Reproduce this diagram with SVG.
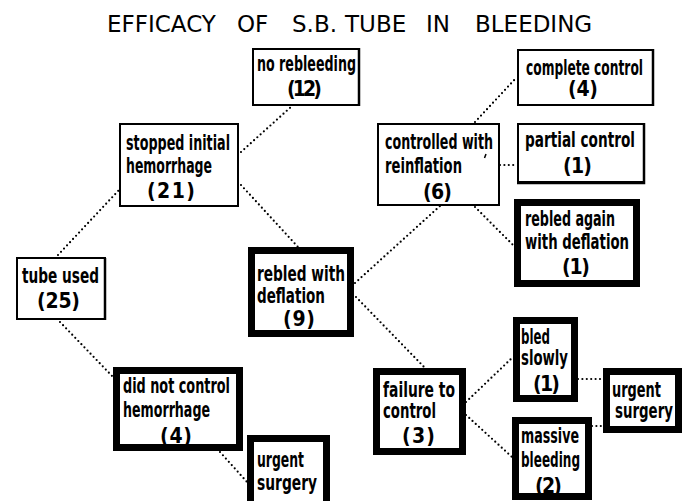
<svg xmlns="http://www.w3.org/2000/svg" width="687" height="501" viewBox="0 0 687 501">
<style>
.bg{fill:#fff}
.thin{fill:#fff;stroke:#000;stroke-width:2}
.thick{fill:#fff;stroke:#000;stroke-width:7}
.edge{stroke:#000;stroke-width:2.5;fill:none}
.conn line{stroke:#000;stroke-width:2.2;stroke-linecap:round;stroke-dasharray:0 4.4;fill:none}
.t{font-family:"DejaVu Sans Condensed","DejaVu Sans","Liberation Sans",sans-serif;font-weight:bold;font-size:21px;fill:#000}
.title{font-family:"DejaVu Sans","Liberation Sans",sans-serif;font-size:23px;fill:#000}
</style>
<rect class="bg" x="0" y="0" width="687" height="501"/>
<text class="title" y="32"><tspan x="107">EFFICACY</tspan><tspan x="237">OF</tspan><tspan x="292">S.B.</tspan><tspan x="345">TUBE</tspan><tspan x="426">IN</tspan><tspan x="475">BLEEDING</tspan></text>

<g id="connectors" class="conn">
<line x1="58" y1="255" x2="119" y2="190"/>
<line x1="60" y1="322" x2="113" y2="377"/>
<line x1="241" y1="152" x2="292" y2="106"/>
<line x1="241" y1="185" x2="298" y2="247"/>
<line x1="355" y1="283" x2="440" y2="206"/>
<line x1="356" y1="297" x2="425" y2="368"/>
<line x1="475" y1="122" x2="517" y2="77"/>
<line x1="500" y1="165" x2="517" y2="165"/>
<line x1="475" y1="207" x2="514" y2="246"/>
<line x1="466" y1="402" x2="513" y2="357"/>
<line x1="466" y1="415" x2="512" y2="457"/>
<line x1="578" y1="379" x2="603" y2="379"/>
<line x1="592" y1="426" x2="603" y2="426"/>
<line x1="220" y1="452" x2="247" y2="482"/>
</g>

<g id="tube-used">
<rect class="thin" x="17" y="258" width="88" height="61"/>
<line class="edge" x1="105" y1="258" x2="105" y2="320"/>
<text class="t" x="22" y="283" textLength="77" lengthAdjust="spacingAndGlyphs">tube used</text>
<text class="t" x="37" y="308" textLength="43" lengthAdjust="spacing">(25)</text>
</g>

<g id="stopped-initial">
<rect class="thin" x="120" y="124" width="118" height="82"/>
<text class="t" x="126" y="150" textLength="104" lengthAdjust="spacingAndGlyphs">stopped initial</text>
<text class="t" x="126" y="173" textLength="86" lengthAdjust="spacingAndGlyphs">hemorrhage</text>
<text class="t" x="147" y="198" textLength="48" lengthAdjust="spacing">(21)</text>
</g>

<g id="no-rebleeding">
<rect class="thin" x="253" y="49" width="106" height="56"/>
<line class="edge" x1="359" y1="48" x2="359" y2="106"/>
<text class="t" x="257" y="71" textLength="99" lengthAdjust="spacingAndGlyphs">no rebleeding</text>
<text class="t" x="287" y="96" textLength="35" lengthAdjust="spacing">(12)</text>
</g>

<g id="rebled-with-deflation">
<rect class="thick" x="251.5" y="250.5" width="99" height="83"/>
<text class="t" x="257" y="281" textLength="88" lengthAdjust="spacingAndGlyphs">rebled with</text>
<text class="t" x="257" y="303" textLength="68" lengthAdjust="spacingAndGlyphs">deflation</text>
<text class="t" x="283" y="326" textLength="32" lengthAdjust="spacing">(9)</text>
</g>

<g id="did-not-control">
<rect class="thick" x="116.5" y="370.5" width="123" height="77"/>
<text class="t" x="123" y="393" textLength="107" lengthAdjust="spacingAndGlyphs">did not control</text>
<text class="t" x="123" y="417" textLength="87" lengthAdjust="spacingAndGlyphs">hemorrhage</text>
<text class="t" x="160" y="443" textLength="32" lengthAdjust="spacing">(4)</text>
</g>

<g id="urgent-surgery-1">
<rect class="thick" x="250.5" y="438.5" width="76" height="72"/>
<text class="t" x="257" y="467" textLength="47" lengthAdjust="spacingAndGlyphs">urgent</text>
<text class="t" x="257" y="490" textLength="60" lengthAdjust="spacingAndGlyphs">surgery</text>
</g>

<g id="controlled-with-reinflation">
<rect class="thin" x="378" y="124" width="121" height="81"/>
<text class="t" x="385" y="149" textLength="108" lengthAdjust="spacingAndGlyphs">controlled with</text>
<text class="t" x="385" y="173" textLength="77" lengthAdjust="spacingAndGlyphs">reinflation</text>
<path d="M486 154 L484.5 158" stroke="#000" stroke-width="1.5" fill="none"/>
<text class="t" x="423" y="199" textLength="29" lengthAdjust="spacing">(6)</text>
</g>

<g id="complete-control">
<rect class="thin" x="518" y="50" width="135" height="55"/>
<line class="edge" x1="653" y1="49" x2="653" y2="106"/>
<text class="t" x="526" y="75" textLength="117" lengthAdjust="spacingAndGlyphs">complete control</text>
<text class="t" x="568" y="96" textLength="30" lengthAdjust="spacing">(4)</text>
</g>

<g id="partial-control">
<rect class="thin" x="518" y="124" width="126" height="58"/>
<path class="edge" d="M644 123 V183 H517"/>
<text class="t" x="525" y="147" textLength="110" lengthAdjust="spacingAndGlyphs">partial control</text>
<text class="t" x="563" y="173" textLength="29" lengthAdjust="spacing">(1)</text>
</g>

<g id="rebled-again">
<rect class="thick" x="517.5" y="202.5" width="119" height="81"/>
<text class="t" x="525" y="226" textLength="90" lengthAdjust="spacingAndGlyphs">rebled again</text>
<text class="t" x="525" y="249" textLength="104" lengthAdjust="spacingAndGlyphs">with deflation</text>
<text class="t" x="562" y="274" textLength="28" lengthAdjust="spacing">(1)</text>
</g>

<g id="failure-to-control">
<rect class="thick" x="376.5" y="371.5" width="86" height="80"/>
<text class="t" x="383" y="397" textLength="72" lengthAdjust="spacingAndGlyphs">failure to</text>
<text class="t" x="383" y="418" textLength="53" lengthAdjust="spacingAndGlyphs">control</text>
<text class="t" x="402" y="443" textLength="33" lengthAdjust="spacing">(3)</text>
</g>

<g id="bled-slowly">
<rect class="thick" x="516.5" y="320.5" width="58" height="78"/>
<text class="t" x="521" y="344" textLength="29" lengthAdjust="spacingAndGlyphs">bled</text>
<text class="t" x="521" y="365" textLength="47" lengthAdjust="spacingAndGlyphs">slowly</text>
<text class="t" x="533" y="391" textLength="27" lengthAdjust="spacing">(1)</text>
</g>

<g id="massive-bleeding">
<rect class="thick" x="515.5" y="420.5" width="73" height="76"/>
<text class="t" x="521" y="443" textLength="58" lengthAdjust="spacingAndGlyphs">massive</text>
<text class="t" x="521" y="467" textLength="59" lengthAdjust="spacingAndGlyphs">bleeding</text>
<text class="t" x="535" y="493" textLength="27" lengthAdjust="spacing">(2)</text>
</g>

<g id="urgent-surgery-2">
<rect class="thick" x="606.5" y="371.5" width="72" height="58"/>
<text class="t" x="612" y="397" textLength="49" lengthAdjust="spacingAndGlyphs">urgent</text>
<text class="t" x="615" y="418" textLength="58" lengthAdjust="spacingAndGlyphs">surgery</text>
</g>
</svg>
